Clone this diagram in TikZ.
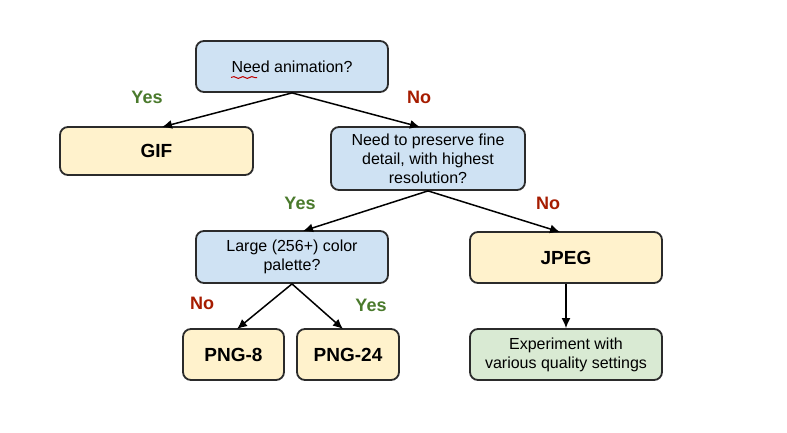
\documentclass[tikz,border=0pt]{standalone}
\usepackage{fontspec}
\setmainfont{Liberation Sans}
\usetikzlibrary{arrows.meta,decorations.pathmorphing}
\definecolor{qblue}{HTML}{CFE2F3}
\definecolor{ryellow}{HTML}{FFF2CC}
\definecolor{rgreen}{HTML}{D9EAD3}
\definecolor{edgec}{HTML}{2B2B2B}
\definecolor{yesc}{HTML}{4A7A2C}
\definecolor{noc}{HTML}{A61C00}
\begin{document}
\begin{tikzpicture}[x=1pt,y=-1pt,
  box/.style={draw=edgec,line width=1.8pt,rounded corners=8pt,align=center,
    inner sep=0pt,font=\fontsize{16}{19}\selectfont},
  qbox/.style={box,fill=qblue},
  rbox/.style={box,fill=ryellow,font=\fontsize{19}{22}\selectfont\bfseries},
  gbox/.style={box,fill=rgreen},
  conn/.style={draw=black,line width=1.5pt,-{Latex[length=10pt,width=9pt]}},
  yeslbl/.style={text=yesc,font=\fontsize{18}{20}\selectfont\bfseries},
  nolbl/.style={text=noc,font=\fontsize{18}{20}\selectfont\bfseries}]
\useasboundingbox (0,0) rectangle (787,432);
\fill[white] (0,0) rectangle (787,432);
\node[qbox,minimum width=192pt,minimum height=51pt] (anim) at (292,66.5) {Need animation?};
\node[rbox,minimum width=193pt,minimum height=48pt] (gif) at (156.5,151) {GIF};
\node[qbox,minimum width=194pt,minimum height=63pt] (fine) at (428,158.5) {Need to preserve fine\\detail, with highest\\resolution?};
\node[qbox,minimum width=192pt,minimum height=52pt] (pal) at (292,257) {Large (256+) color\\palette?};
\node[rbox,minimum width=192pt,minimum height=51pt] (jpeg) at (566,257.5) {JPEG};
\node[rbox,minimum width=101pt,minimum height=51pt] (png8) at (233.5,354.5) {PNG-8};
\node[rbox,minimum width=102pt,minimum height=51pt] (png24) at (348,354.5) {PNG-24};
\node[gbox,minimum width=192pt,minimum height=51pt] (exp) at (566,354.5) {Experiment with\\various quality settings};
\coordinate (gifT) at (162,127);
\coordinate (fineT) at (420,127);
\coordinate (palT) at (303,231);
\coordinate (jpegT) at (560,232);
\coordinate (png8T) at (237,329);
\coordinate (png24T) at (343,329);
\draw[conn] (anim.south) -- (gifT);
\draw[conn] (anim.south) -- (fineT);
\draw[conn] (fine.south) -- (palT);
\draw[conn] (fine.south) -- (jpegT);
\draw[conn] (pal.south) -- (png8T);
\draw[conn] (pal.south) -- (png24T);
\draw[conn] (jpeg.south) -- (exp.north);
\node[yeslbl] (y1) at (147,97) {Yes};
\node[nolbl] (n1) at (419,97) {No};
\node[yeslbl] (y2) at (300,203) {Yes};
\node[nolbl] (n2) at (548,203) {No};
\node[nolbl] (n3) at (202,303) {No};
\node[yeslbl] (y3) at (371,305) {Yes};
\coordinate (sqA) at (231,77.5);
\coordinate (sqB) at (257,77.5);
\draw[red!75!black,line width=1pt,decorate,decoration={snake,amplitude=0.9pt,segment length=9pt}] (sqA) -- (sqB);
\end{tikzpicture}
\end{document}
